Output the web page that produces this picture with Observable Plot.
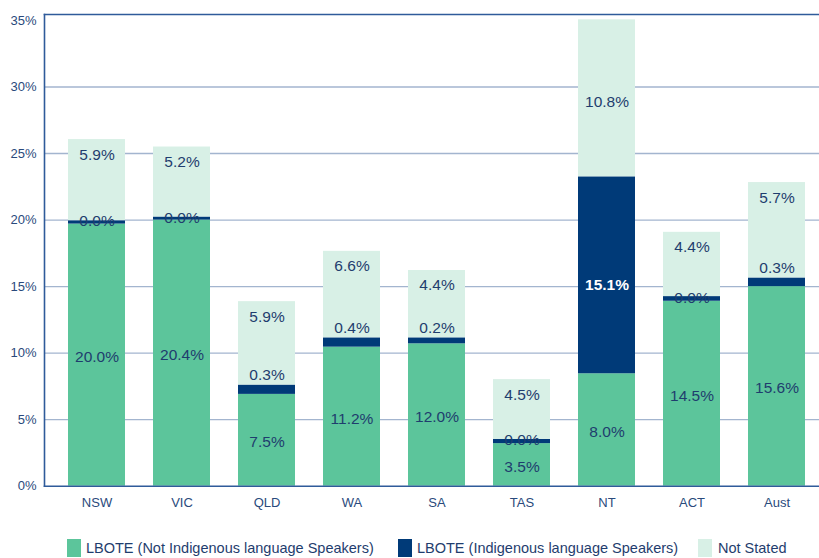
<!DOCTYPE html>
<html>
<head>
<meta charset="utf-8">
<script src="https://cdn.jsdelivr.net/npm/d3@7"></script>
<script src="https://cdn.jsdelivr.net/npm/@observablehq/plot@0.6"></script>
<style>
  html, body { margin: 0; padding: 0; background: #fff; }
  #wrap { position: relative; width: 819px; height: 558px; font-family: "Liberation Sans", Arial, sans-serif; }
  #legend { position: absolute; left: 0; top: 539px; width: 819px; height: 19px; }
  .sw { position: absolute; top: 0; width: 14px; height: 18px; }
  .lt { position: absolute; top: 0; line-height: 18px; font-size: 14.5px; color: #1f3d6e; white-space: nowrap; }
</style>
</head>
<body>
<div id="wrap">
  <div id="chart"></div>
  <div id="legend"></div>
</div>
<script>
// Categories
const states = ["NSW", "VIC", "QLD", "WA", "SA", "TAS", "NT", "ACT", "Aust"];
// Series names
const seriesNames = [
  "LBOTE (Not Indigenous language Speakers)",
  "LBOTE (Indigenous language Speakers)",
  "Not Stated"
];
// Segment heights as drawn (%)
const nonIndigenous = [19.7, 20.0, 6.9, 10.45, 10.7, 3.2, 8.45, 13.9, 15.0];
const indigenous    = [0.25, 0.23, 0.7, 0.7, 0.45, 0.32, 14.8, 0.35, 0.65];
const notStated     = [6.1, 5.26, 6.27, 6.5, 5.06, 4.49, 11.8, 4.83, 7.17];
// Data labels as printed
const nonIndigenousLabels = ["20.0%", "20.4%", "7.5%", "11.2%", "12.0%", "3.5%", "8.0%", "14.5%", "15.6%"];
const indigenousLabels    = ["0.0%", "0.0%", "0.3%", "0.4%", "0.2%", "0.0%", "15.1%", "0.0%", "0.3%"];
const notStatedLabels     = ["5.9%", "5.2%", "5.9%", "6.6%", "4.4%", "4.5%", "10.8%", "4.4%", "5.7%"];
// Y ticks
const yTicks = [0, 5, 10, 15, 20, 25, 30, 35];
const gridTicks = [5, 10, 15, 20, 25, 30];

const colors = ["#5cc59b", "#003a78", "#d8f0e6"];
const textColor = "#1f3d6e";
const axisColor = "#2f5b9a";
const gridColor = "#a3b5cf";

const values = [nonIndigenous, indigenous, notStated];
const labels = [nonIndigenousLabels, indigenousLabels, notStatedLabels];

const rows = [];
states.forEach((s, i) => {
  let base = 0;
  values.forEach((arr, k) => {
    const v = arr[i];
    rows.push({state: s, series: seriesNames[k], k, y1: base, y2: base + v, v, label: labels[k][i]});
    base += v;
  });
});

// label placement logic
const greenLbl = rows.filter(r => r.k === 0).map(r => ({...r, y: (r.y1 + r.y2) / 2}));
const darkCenter = rows.filter(r => r.k === 1 && (r.label === "0.0%")).map(r => ({...r, y: (r.y1 + r.y2) / 2}));
const darkAbove = rows.filter(r => r.k === 1 && r.label !== "0.0%" && r.v < 5).map(r => ({...r, y: r.y2}));
const darkBig = rows.filter(r => r.k === 1 && r.v >= 5).map(r => ({...r, y: (r.y1 + r.y2) / 2}));
const lightTop = rows.filter(r => r.k === 2 && r.v < 10).map(r => ({...r, y: r.y2}));
const lightBig = rows.filter(r => r.k === 2 && r.v >= 10).map(r => ({...r, y: (r.y1 + r.y2) / 2}));

const font = "Liberation Sans, Arial, sans-serif";
const lblOpts = {x: "state", y: "y", text: "label", fill: textColor, fontSize: 15.5, fontFamily: font, lineAnchor: "middle"};

const chart = Plot.plot({
  width: 819,
  height: 530,
  marginTop: 14,
  marginBottom: 44.3,
  marginLeft: 44,
  marginRight: 0,
  style: {fontFamily: font, background: "#fff"},
  x: {domain: states, range: [53, 820.6], paddingInner: 0.33, paddingOuter: 0.165, align: 0.5, label: null},
  y: {domain: [0, 35.45], label: null},
  color: {domain: seriesNames, range: colors},
  marks: [
    Plot.gridY(gridTicks, {stroke: gridColor, strokeOpacity: 1, strokeWidth: 1.4}),
    Plot.barY(rows, {x: "state", y1: "y1", y2: "y2", fill: "series"}),
    Plot.frame({anchor: "left", stroke: axisColor, strokeWidth: 1.6}),
    Plot.frame({anchor: "top", stroke: axisColor, strokeWidth: 1.6}),
    Plot.frame({anchor: "bottom", stroke: axisColor, strokeWidth: 1.6}),
    Plot.axisY({ticks: yTicks, tickFormat: d => d + "%", tickSize: 0, tickPadding: 8, fontSize: 13, fill: "#2a4a7c", label: null}),
    Plot.axisX({tickSize: 0, tickPadding: 12, fontSize: 13, fill: "#2a4a7c", label: null}),
    Plot.text(greenLbl, {...lblOpts, dy: 2}),
    Plot.text(darkCenter, {...lblOpts, dy: -1}),
    Plot.text(darkAbove, {...lblOpts, dy: -10}),
    Plot.text(darkBig, {...lblOpts, dy: 10, fill: "#ffffff", fontWeight: "bold"}),
    Plot.text(lightTop, {...lblOpts, dy: 15}),
    Plot.text(lightBig, {...lblOpts, dy: 4})
  ]
});
document.getElementById("chart").appendChild(chart);

// Legend
const legend = document.getElementById("legend");
const legendItems = [
  {sw: 67, tx: 86},
  {sw: 398, tx: 417},
  {sw: 698, tx: 718}
];
seriesNames.forEach((name, k) => {
  const s = document.createElement("div");
  s.className = "sw";
  s.style.left = legendItems[k].sw + "px";
  s.style.background = colors[k];
  legend.appendChild(s);
  const t = document.createElement("div");
  t.className = "lt";
  t.style.left = legendItems[k].tx + "px";
  t.textContent = name;
  legend.appendChild(t);
});
</script>
</body>
</html>
